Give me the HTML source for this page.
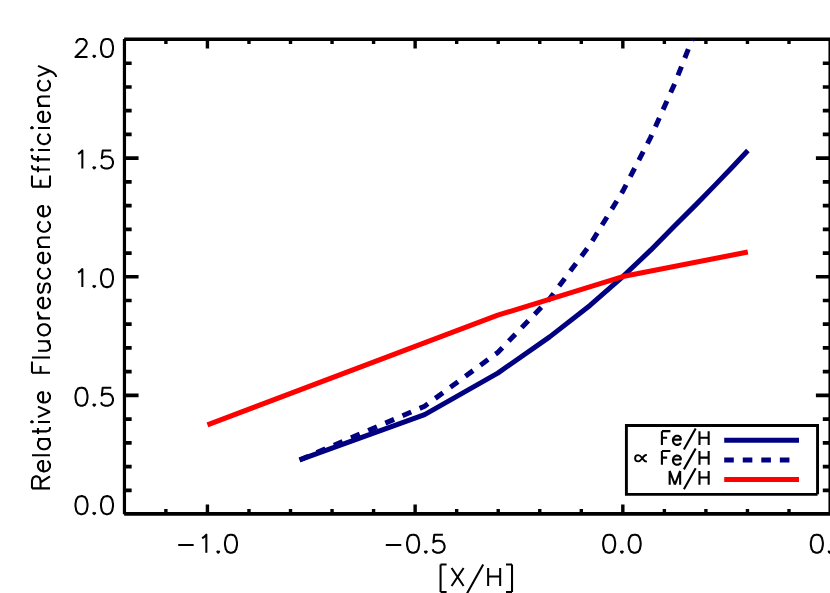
<!DOCTYPE html>
<html><head><meta charset="utf-8"><title>Relative Fluorescence Efficiency</title>
<style>html,body{margin:0;padding:0;background:#fff;font-family:"Liberation Sans",sans-serif}svg{display:block}</style>
</head><body>
<svg width="830" height="593" viewBox="0 0 830 593">
<rect width="830" height="593" fill="#fff"/>
<path d="M124.15 39.27H830.40" fill="none" stroke="#000" stroke-width="3.35"/>
<path d="M124.15 513.85H830.40" fill="none" stroke="#000" stroke-width="3.7"/>
<path d="M124.45 38.97V514.15" fill="none" stroke="#000" stroke-width="3.2"/>
<path d="M830.1 38.97V514.15" fill="none" stroke="#000" stroke-width="3.3"/>
<path d="M165.89 513.75v-4.70M165.89 39.30v4.70M207.43 513.75v-9.30M207.43 39.30v9.30M248.97 513.75v-4.70M248.97 39.30v4.70M290.51 513.75v-4.70M290.51 39.30v4.70M332.05 513.75v-4.70M332.05 39.30v4.70M373.59 513.75v-4.70M373.59 39.30v4.70M415.13 513.75v-9.30M415.13 39.30v9.30M456.67 513.75v-4.70M456.67 39.30v4.70M498.21 513.75v-4.70M498.21 39.30v4.70M539.75 513.75v-4.70M539.75 39.30v4.70M581.29 513.75v-4.70M581.29 39.30v4.70M622.83 513.75v-9.30M622.83 39.30v9.30M664.37 513.75v-4.70M664.37 39.30v4.70M705.91 513.75v-4.70M705.91 39.30v4.70M747.45 513.75v-4.70M747.45 39.30v4.70M788.99 513.75v-4.70M788.99 39.30v4.70" fill="none" stroke="#000" stroke-width="3.40"/>
<path d="M124.35 490.28h7.30M830.10 490.28h-7.30M124.35 466.56h7.30M830.10 466.56h-7.30M124.35 442.83h7.30M830.10 442.83h-7.30M124.35 419.11h7.30M830.10 419.11h-7.30M124.35 395.39h14.20M830.10 395.39h-14.20M124.35 371.66h7.30M830.10 371.66h-7.30M124.35 347.94h7.30M830.10 347.94h-7.30M124.35 324.22h7.30M830.10 324.22h-7.30M124.35 300.50h7.30M830.10 300.50h-7.30M124.35 276.77h14.20M830.10 276.77h-14.20M124.35 253.05h7.30M830.10 253.05h-7.30M124.35 229.33h7.30M830.10 229.33h-7.30M124.35 205.61h7.30M830.10 205.61h-7.30M124.35 181.88h7.30M830.10 181.88h-7.30M124.35 158.16h14.20M830.10 158.16h-14.20M124.35 134.44h7.30M830.10 134.44h-7.30M124.35 110.72h7.30M830.10 110.72h-7.30M124.35 87.00h7.30M830.10 87.00h-7.30M124.35 63.27h7.30M830.10 63.27h-7.30" fill="none" stroke="#000" stroke-width="3.7"/>
<defs><clipPath id="c"><rect x="124.35" y="39.30" width="705.75" height="474.45"/></clipPath></defs>
<g clip-path="url(#c)" fill="none" stroke-linejoin="round">
<path d="M299.59 459.97L424.63 414.59L497.78 373.08L549.68 336.90L589.94 305.47L622.83 276.52L650.64 250.19L674.73 225.69L695.98 204.65L714.99 185.12L732.18 167.31L747.88 150.56" stroke="#000080" stroke-width="5.00"/>
<path d="M299.59 459.98L424.63 406.21L497.78 352.44L549.68 298.67L589.94 244.89L622.83 191.12L650.64 137.35L674.73 83.58L695.98 29.81L714.99 -23.96L732.18 -77.73L747.88 -131.50" stroke="#000080" stroke-width="5.00" stroke-dasharray="9.5 9.17"/>
<path d="M207.43 424.79L497.79 315.19L622.83 276.52L747.87 251.97" stroke="#ff0000" stroke-width="5.00"/>
</g>
<path d="M817.55 494.35H626.4V425.5H817.55V494.35" fill="#fff" stroke="#000" stroke-width="2.9" stroke-linejoin="miter" stroke-linecap="butt"/>
<path d="M724.2 440.15H799" stroke="#000080" stroke-width="5.0" fill="none"/>
<path d="M724.2 459.9H790" stroke="#000080" stroke-width="5.0" fill="none" stroke-dasharray="9.6 8.95"/>
<path d="M724.2 479.5H799" stroke="#ff0000" stroke-width="5.0" fill="none"/>
<path d="M76.34 43.26L76.34 42.41L77.20 40.69L78.06 39.83L79.77 38.97L83.21 38.97L84.92 39.83L85.78 40.69L86.64 42.41L86.64 44.12L85.78 45.84L84.07 48.42L75.48 57.00L87.50 57.00M94.24 55.28L93.38 56.14L94.24 57.00L95.10 56.14L94.24 55.28M106.13 38.97L103.56 39.83L101.84 42.41L100.98 46.70L100.98 49.27L101.84 53.57L103.56 56.14L106.13 57.00L107.85 57.00L110.42 56.14L112.14 53.57L113.00 49.27L113.00 46.70L112.14 42.41L110.42 39.83L107.85 38.97L106.13 38.97M78.06 153.92L79.77 153.06L82.35 150.48L82.35 168.51M94.24 166.80L93.38 167.65L94.24 168.51L95.10 167.65L94.24 166.80M111.28 150.48L102.70 150.48L101.84 158.21L102.70 157.35L105.27 156.49L107.85 156.49L110.42 157.35L112.14 159.07L113.00 161.64L113.00 163.36L112.14 165.94L110.42 167.65L107.85 168.51L105.27 168.51L102.70 167.65L101.84 166.80L100.98 165.08M78.06 272.53L79.77 271.67L82.35 269.10L82.35 287.12M94.24 285.41L93.38 286.27L94.24 287.12L95.10 286.27L94.24 285.41M106.13 269.10L103.56 269.95L101.84 272.53L100.98 276.82L100.98 279.40L101.84 283.69L103.56 286.27L106.13 287.12L107.85 287.12L110.42 286.27L112.14 283.69L113.00 279.40L113.00 276.82L112.14 272.53L110.42 269.95L107.85 269.10L106.13 269.10M80.63 387.71L78.06 388.57L76.34 391.14L75.48 395.44L75.48 398.01L76.34 402.30L78.06 404.88L80.63 405.74L82.35 405.74L84.92 404.88L86.64 402.30L87.50 398.01L87.50 395.44L86.64 391.14L84.92 388.57L82.35 387.71L80.63 387.71M94.24 404.02L93.38 404.88L94.24 405.74L95.10 404.88L94.24 404.02M111.28 387.71L102.70 387.71L101.84 395.44L102.70 394.58L105.27 393.72L107.85 393.72L110.42 394.58L112.14 396.29L113.00 398.87L113.00 400.59L112.14 403.16L110.42 404.88L107.85 405.74L105.27 405.74L102.70 404.88L101.84 404.02L100.98 402.30M80.63 496.12L78.06 496.98L76.34 499.56L75.48 503.85L75.48 506.42L76.34 510.72L78.06 513.29L80.63 514.15L82.35 514.15L84.92 513.29L86.64 510.72L87.50 506.42L87.50 503.85L86.64 499.56L84.92 496.98L82.35 496.12L80.63 496.12M94.24 512.43L93.38 513.29L94.24 514.15L95.10 513.29L94.24 512.43M106.13 496.12L103.56 496.98L101.84 499.56L100.98 503.85L100.98 506.42L101.84 510.72L103.56 513.29L106.13 514.15L107.85 514.15L110.42 513.29L112.14 510.72L113.00 506.42L113.00 503.85L112.14 499.56L110.42 496.98L107.85 496.12L106.13 496.12M178.21 544.97L193.66 544.97M202.05 538.11L203.77 537.25L206.34 534.67L206.34 552.70M218.23 550.98L217.38 551.84L218.23 552.70L219.09 551.84L218.23 550.98M230.12 534.67L227.55 535.53L225.83 538.11L224.97 542.40L224.97 544.97L225.83 549.27L227.55 551.84L230.12 552.70L231.84 552.70L234.42 551.84L236.13 549.27L236.99 544.97L236.99 542.40L236.13 538.11L234.42 535.53L231.84 534.67L230.12 534.67M385.81 544.97L401.26 544.97M412.22 534.67L409.65 535.53L407.93 538.11L407.07 542.40L407.07 544.97L407.93 549.27L409.65 551.84L412.22 552.70L413.94 552.70L416.52 551.84L418.23 549.27L419.09 544.97L419.09 542.40L418.23 538.11L416.52 535.53L413.94 534.67L412.22 534.67M425.83 550.98L424.98 551.84L425.83 552.70L426.69 551.84L425.83 550.98M442.88 534.67L434.29 534.67L433.43 542.40L434.29 541.54L436.87 540.68L439.44 540.68L442.02 541.54L443.73 543.26L444.59 545.83L444.59 547.55L443.73 550.12L442.02 551.84L439.44 552.70L436.87 552.70L434.29 551.84L433.43 550.98L432.57 549.27M608.29 534.67L605.72 535.53L604.00 538.11L603.14 542.40L603.14 544.97L604.00 549.27L605.72 551.84L608.29 552.70L610.01 552.70L612.58 551.84L614.30 549.27L615.16 544.97L615.16 542.40L614.30 538.11L612.58 535.53L610.01 534.67L608.29 534.67M621.90 550.98L621.04 551.84L621.90 552.70L622.76 551.84L621.90 550.98M633.79 534.67L631.22 535.53L629.50 538.11L628.64 542.40L628.64 544.97L629.50 549.27L631.22 551.84L633.79 552.70L635.51 552.70L638.08 551.84L639.80 549.27L640.66 544.97L640.66 542.40L639.80 538.11L638.08 535.53L635.51 534.67L633.79 534.67M815.99 534.67L813.42 535.53L811.70 538.11L810.84 542.40L810.84 544.97L811.70 549.27L813.42 551.84L815.99 552.70L817.71 552.70L820.28 551.84L822.00 549.27L822.86 544.97L822.86 542.40L822.00 538.11L820.28 535.53L817.71 534.67L815.99 534.67M829.60 550.98L828.74 551.84L829.60 552.70L830.46 551.84L829.60 550.98M846.64 534.67L838.06 534.67L837.20 542.40L838.06 541.54L840.63 540.68L843.21 540.68L845.78 541.54L847.50 543.26L848.36 545.83L848.36 547.55L847.50 550.12L845.78 551.84L843.21 552.70L840.63 552.70L838.06 551.84L837.20 550.98L836.34 549.27M440.57 564.54L440.57 592.01M440.57 564.54L446.58 564.54M440.57 592.01L446.58 592.01M451.59 567.97L463.61 586.00M463.61 567.97L451.59 586.00M483.18 564.54L466.87 593.73M488.14 567.97L488.14 586.00M500.16 567.97L500.16 586.00M488.14 576.56L500.16 576.56M512.03 564.54L512.03 592.01M506.02 564.54L512.03 564.54M506.02 592.01L512.03 592.01M31.97 488.38L50.00 488.38M31.97 488.38L31.97 480.65L32.83 478.08L33.69 477.22L35.41 476.36L37.12 476.36L38.84 477.22L39.70 478.08L40.56 480.65L40.56 488.38M40.56 482.37L50.00 476.36M43.13 471.37L43.13 461.07L41.41 461.07L39.70 461.93L38.84 462.79L37.98 464.50L37.98 467.08L38.84 468.80L40.56 470.51L43.13 471.37L44.85 471.37L47.42 470.51L49.14 468.80L50.00 467.08L50.00 464.50L49.14 462.79L47.42 461.07M31.97 455.17L50.00 455.17M37.98 438.97L50.00 438.97M40.56 438.97L38.84 440.69L37.98 442.40L37.98 444.98L38.84 446.70L40.56 448.41L43.13 449.27L44.85 449.27L47.42 448.41L49.14 446.70L50.00 444.98L50.00 442.40L49.14 440.69L47.42 438.97M31.97 431.37L46.57 431.37L49.14 430.51L50.00 428.80L50.00 427.08M37.98 433.95L37.98 427.94M31.97 422.88L32.83 422.02L31.97 421.16L31.11 422.02L31.97 422.88M37.98 422.02L50.00 422.02M37.98 416.97L50.00 411.82M37.98 406.67L50.00 411.82M43.13 402.52L43.13 392.22L41.41 392.22L39.70 393.08L38.84 393.94L37.98 395.65L37.98 398.23L38.84 399.95L40.56 401.66L43.13 402.52L44.85 402.52L47.42 401.66L49.14 399.95L50.00 398.23L50.00 395.65L49.14 393.94L47.42 392.22M31.97 372.77L50.00 372.77M31.97 372.77L31.97 361.61M40.56 372.77L40.56 365.90M31.97 357.42L50.00 357.42M37.98 350.66L46.57 350.66L49.14 349.80L50.00 348.09L50.00 345.51L49.14 343.80L46.57 341.22M37.98 341.22L50.00 341.22M37.98 331.08L38.84 332.80L40.56 334.51L43.13 335.37L44.85 335.37L47.42 334.51L49.14 332.80L50.00 331.08L50.00 328.50L49.14 326.79L47.42 325.07L44.85 324.21L43.13 324.21L40.56 325.07L38.84 326.79L37.98 328.50L37.98 331.08M37.98 318.35L50.00 318.35M43.13 318.35L40.56 317.49L38.84 315.77L37.98 314.05L37.98 311.48M43.13 308.17L43.13 297.87L41.41 297.87L39.70 298.73L38.84 299.59L37.98 301.30L37.98 303.88L38.84 305.60L40.56 307.31L43.13 308.17L44.85 308.17L47.42 307.31L49.14 305.60L50.00 303.88L50.00 301.30L49.14 299.59L47.42 297.87M40.56 283.42L38.84 284.28L37.98 286.85L37.98 289.43L38.84 292.00L40.56 292.86L42.27 292.00L43.13 290.29L43.99 286.00L44.85 284.28L46.57 283.42L47.42 283.42L49.14 284.28L50.00 286.85L50.00 289.43L49.14 292.00L47.42 292.86M40.56 268.12L38.84 269.84L37.98 271.55L37.98 274.13L38.84 275.85L40.56 277.56L43.13 278.42L44.85 278.42L47.42 277.56L49.14 275.85L50.00 274.13L50.00 271.55L49.14 269.84L47.42 268.12M43.13 263.12L43.13 252.82L41.41 252.82L39.70 253.68L38.84 254.54L37.98 256.25L37.98 258.83L38.84 260.55L40.56 262.26L43.13 263.12L44.85 263.12L47.42 262.26L49.14 260.55L50.00 258.83L50.00 256.25L49.14 254.54L47.42 252.82M37.98 246.96L50.00 246.96M41.41 246.96L38.84 244.39L37.98 242.67L37.98 240.10L38.84 238.38L41.41 237.52L50.00 237.52M40.56 221.37L38.84 223.09L37.98 224.80L37.98 227.38L38.84 229.10L40.56 230.81L43.13 231.67L44.85 231.67L47.42 230.81L49.14 229.10L50.00 227.38L50.00 224.80L49.14 223.09L47.42 221.37M43.13 216.37L43.13 206.07L41.41 206.07L39.70 206.93L38.84 207.79L37.98 209.50L37.98 212.08L38.84 213.80L40.56 215.51L43.13 216.37L44.85 216.37L47.42 215.51L49.14 213.80L50.00 212.08L50.00 209.50L49.14 207.79L47.42 206.07M31.97 186.62L50.00 186.62M31.97 186.62L31.97 175.46M40.56 186.62L40.56 179.75M50.00 186.62L50.00 175.46M31.97 165.28L31.97 167.00L32.83 168.71L35.41 169.57L50.00 169.57M37.98 172.15L37.98 166.14M31.97 155.08L31.97 156.80L32.83 158.51L35.41 159.37L50.00 159.37M37.98 161.95L37.98 155.94M31.97 150.88L32.83 150.02L31.97 149.16L31.11 150.02L31.97 150.88M37.98 150.02L50.00 150.02M40.56 133.82L38.84 135.54L37.98 137.25L37.98 139.83L38.84 141.55L40.56 143.26L43.13 144.12L44.85 144.12L47.42 143.26L49.14 141.55L50.00 139.83L50.00 137.25L49.14 135.54L47.42 133.82M31.97 128.78L32.83 127.92L31.97 127.06L31.11 127.92L31.97 128.78M37.98 127.92L50.00 127.92M43.13 122.02L43.13 111.72L41.41 111.72L39.70 112.58L38.84 113.44L37.98 115.15L37.98 117.73L38.84 119.45L40.56 121.16L43.13 122.02L44.85 122.02L47.42 121.16L49.14 119.45L50.00 117.73L50.00 115.15L49.14 113.44L47.42 111.72M37.98 105.86L50.00 105.86M41.41 105.86L38.84 103.29L37.98 101.57L37.98 99.00L38.84 97.28L41.41 96.42L50.00 96.42M40.56 80.27L38.84 81.99L37.98 83.70L37.98 86.28L38.84 88.00L40.56 89.71L43.13 90.57L44.85 90.57L47.42 89.71L49.14 88.00L50.00 86.28L50.00 83.70L49.14 81.99L47.42 80.27M37.98 76.12L50.00 70.97M37.98 65.82L50.00 70.97L53.43 72.69L55.15 74.40L56.01 76.12L56.01 76.98" fill="none" stroke="#000" stroke-width="2.05" stroke-linecap="butt" stroke-linejoin="round"/>
<path d="M661.91 431.16L661.91 444.90M661.91 431.16L670.42 431.16M661.91 437.70L667.15 437.70M672.93 439.66L680.78 439.66L680.78 438.36L680.13 437.05L679.47 436.39L678.16 435.74L676.20 435.74L674.89 436.39L673.58 437.70L672.93 439.66L672.93 440.97L673.58 442.94L674.89 444.25L676.20 444.90L678.16 444.90L679.47 444.25L680.78 442.94M695.70 428.54L683.92 449.48M699.49 431.16L699.49 444.90M708.65 431.16L708.65 444.90M699.49 437.70L708.65 437.70M661.91 451.06L661.91 464.80M661.91 451.06L670.42 451.06M661.91 457.60L667.15 457.60M672.93 459.56L680.78 459.56L680.78 458.26L680.13 456.95L679.47 456.29L678.16 455.64L676.20 455.64L674.89 456.29L673.58 457.60L672.93 459.56L672.93 460.87L673.58 462.84L674.89 464.15L676.20 464.80L678.16 464.80L679.47 464.15L680.78 462.84M695.70 448.44L683.92 469.38M699.49 451.06L699.49 464.80M708.65 451.06L708.65 464.80M699.49 457.60L708.65 457.60M669.67 470.96L669.67 484.70M669.67 470.96L674.91 484.70M680.14 470.96L674.91 484.70M680.14 470.96L680.14 484.70M695.70 468.34L683.92 489.28M699.49 470.96L699.49 484.70M708.65 470.96L708.65 484.70M699.49 477.50L708.65 477.50" fill="none" stroke="#000" stroke-width="2.1" stroke-linecap="butt" stroke-linejoin="round"/>
<path d="M646.1 455C644.4 455 643.3 456.8 641.9 458.7C640.7 460.3 639.6 461.4 638.1 461.4C636.4 461.4 635.1 460 635.1 458.25C635.1 456.5 636.4 455.1 638.1 455.1C639.6 455.1 640.7 456.2 641.9 457.8C643.3 459.7 644.4 461.5 646.1 461.5" fill="none" stroke="#000" stroke-width="1.9" stroke-linecap="round" stroke-linejoin="round"/>
</svg>
</body></html>
